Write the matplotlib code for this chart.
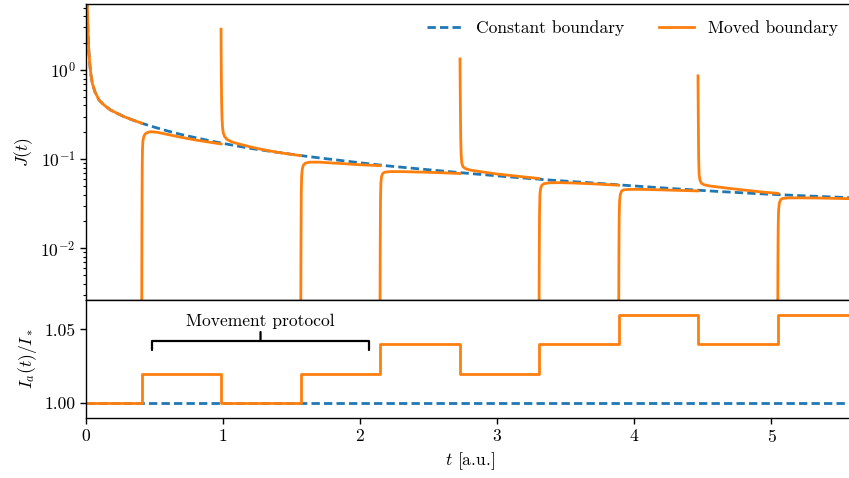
import numpy as np
import matplotlib.pyplot as plt

plt.rcParams['font.family'] = 'cmr10'
plt.rcParams['mathtext.fontset'] = 'cm'
plt.rcParams['axes.formatter.use_mathtext'] = True
plt.rcParams['font.size'] = 12.6

# flux with the boundary held fixed
const_t = np.array([0.006, 0.0095, 0.0146, 0.021, 0.029, 0.037, 0.046, 0.065, 0.095,
                    0.135, 0.18, 0.23, 0.277, 0.34, 0.406, 0.5, 0.6, 0.7, 0.8, 0.9,
                    1.0, 1.2, 1.4, 1.6, 1.8, 2.0, 2.2, 2.5, 2.8, 3.1, 3.4, 3.7, 4.0,
                    4.3, 4.6, 4.9, 5.2, 5.6])
const_j = np.array([8.0, 5.4, 2.6, 1.6, 1.1, 0.86, 0.71, 0.57, 0.46,
                    0.40, 0.355, 0.325, 0.30, 0.275, 0.253, 0.228, 0.206, 0.188, 0.174, 0.161,
                    0.150, 0.132, 0.119, 0.108, 0.099, 0.091, 0.084, 0.076, 0.069, 0.063, 0.058,
                    0.054, 0.050, 0.0465, 0.0435, 0.0410, 0.0390, 0.0368])

# flux with the moving boundary, one piece per protocol step
moved_t2 = np.array([0.406, 0.408, 0.410, 0.412, 0.415, 0.422, 0.432, 0.448, 0.47,
                     0.52, 0.618, 0.7, 0.81, 0.9, 0.985])
moved_j2 = np.array([1e-3, 0.02, 0.08, 0.13, 0.16, 0.180, 0.192, 0.199, 0.203,
                     0.200, 0.186, 0.175, 0.163, 0.155, 0.148])

moved_t3 = np.array([0.985, 0.9855, 0.987, 0.989, 0.992, 0.996, 1.002, 1.012, 1.03,
                     1.06, 1.1, 1.2, 1.3, 1.4, 1.5, 1.566])
moved_j3 = np.array([2.87, 1.8, 0.9, 0.45, 0.29, 0.225, 0.195, 0.178, 0.166,
                     0.157, 0.150, 0.137, 0.127, 0.119, 0.113, 0.1095])

moved_t4 = np.array([1.566, 1.568, 1.570, 1.573, 1.578, 1.586, 1.6, 1.63, 1.7,
                     1.8, 1.9, 2.0, 2.144])
moved_j4 = np.array([1e-3, 0.01, 0.04, 0.065, 0.078, 0.086, 0.090, 0.0925, 0.0925,
                     0.0905, 0.0885, 0.0865, 0.0845])

moved_t5 = np.array([2.144, 2.146, 2.148, 2.151, 2.156, 2.164, 2.18, 2.22, 2.3,
                     2.45, 2.6, 2.728])
moved_j5 = np.array([1e-3, 0.01, 0.035, 0.055, 0.064, 0.069, 0.0715, 0.0725, 0.0725,
                     0.0715, 0.0703, 0.069])

moved_t6 = np.array([2.728, 2.729, 2.731, 2.733, 2.736, 2.741, 2.75, 2.77, 2.8,
                     2.9, 3.0, 3.1, 3.2, 3.304])
moved_j6 = np.array([1.33, 0.8, 0.35, 0.18, 0.115, 0.090, 0.082, 0.078, 0.0755,
                     0.0715, 0.068, 0.0655, 0.063, 0.0607])

moved_t7 = np.array([3.304, 3.306, 3.308, 3.311, 3.316, 3.325, 3.34, 3.38, 3.45,
                     3.55, 3.7, 3.885])
moved_j7 = np.array([1e-3, 0.008, 0.025, 0.040, 0.047, 0.051, 0.053, 0.0543, 0.0545,
                     0.0540, 0.0528, 0.0510])

moved_t8 = np.array([3.885, 3.887, 3.889, 3.892, 3.897, 3.906, 3.92, 3.96, 4.05,
                     4.2, 4.35, 4.464])
moved_j8 = np.array([1e-3, 0.008, 0.022, 0.034, 0.040, 0.0437, 0.0452, 0.0458, 0.0458,
                     0.0452, 0.0445, 0.0440])

moved_t9 = np.array([4.464, 4.465, 4.467, 4.469, 4.472, 4.478, 4.49, 4.51, 4.55,
                     4.65, 4.8, 4.95, 5.045])
moved_j9 = np.array([0.86, 0.5, 0.2, 0.1, 0.068, 0.058, 0.0535, 0.0515, 0.0500,
                     0.0478, 0.0450, 0.0425, 0.0413])

moved_t10 = np.array([5.045, 5.047, 5.049, 5.052, 5.057, 5.066, 5.08, 5.12, 5.2,
                      5.35, 5.5, 5.6])
moved_j10 = np.array([1e-3, 0.007, 0.018, 0.027, 0.032, 0.0350, 0.0362, 0.0367, 0.0368,
                      0.0366, 0.0362, 0.0359])

# movement protocol: switching times and the boundary current level after each
switch_t = np.array([0.0, 0.406, 0.985, 1.566, 2.144, 2.728, 3.304, 3.885, 4.464, 5.045, 5.6])
level = np.array([1.00, 1.02, 1.00, 1.02, 1.04, 1.02, 1.04, 1.06, 1.04, 1.06, 1.06])

blue = '#1f77b4'
orange = '#ff7f0e'
lw = 2.0
dash = (0, (3.0, 1.5))

fig = plt.figure(figsize=(8.49, 4.78), dpi=100)
ax1 = fig.add_axes([0.1013, 0.3724, 0.9043, 0.6182])
ax2 = fig.add_axes([0.1013, 0.1262, 0.9043, 0.2462], sharex=ax1)

ax1.plot(const_t, const_j, color=blue, lw=lw, ls=dash, label='Constant boundary')
first = const_t <= 0.406
ax1.plot(const_t[first], const_j[first], color=orange, lw=lw, label='Moved boundary')
for t, j in [(moved_t2, moved_j2), (moved_t3, moved_j3), (moved_t4, moved_j4),
             (moved_t5, moved_j5), (moved_t6, moved_j6), (moved_t7, moved_j7),
             (moved_t8, moved_j8), (moved_t9, moved_j9), (moved_t10, moved_j10)]:
    ax1.plot(t, j, color=orange, lw=lw)

ax1.set_yscale('log')
ax1.set_ylim(2.63e-3, 5.43)
ax1.set_xlim(0, 5.6)
ax1.set_ylabel(r'$J(t)$')
ax1.tick_params(axis='x', bottom=False, labelbottom=False)
ax1.legend(loc='upper right', ncol=2, frameon=False)

ax2.plot(switch_t, np.ones_like(switch_t), color=blue, lw=lw, ls=dash)
ax2.step(switch_t, level, where='post', color=orange, lw=lw)
ax2.set_ylim(0.99, 1.07)
ax2.set_yticks([1.00, 1.05])
ax2.set_yticklabels(['1.00', '1.05'])
ax2.set_xticks([0, 1, 2, 3, 4, 5])
ax2.set_ylabel(r'$I_a(t)/I_*$')
ax2.set_xlabel(r'$t$ [a.u.]')

ax2.annotate('Movement protocol', xy=(1.273, 1.0423), xytext=(1.273, 1.0522),
             ha='center', va='baseline',
             arrowprops=dict(arrowstyle='-[, widthB=6.2, lengthB=0.53',
                             lw=1.6, color='black', shrinkA=0, shrinkB=0))

for ax in (ax1, ax2):
    for s in ax.spines.values():
        s.set_linewidth(1.0)
    ax.tick_params(which='major', length=4, width=1.0)
    ax.tick_params(which='minor', length=2.4, width=0.8)

fig.savefig('out.png', dpi=100)
